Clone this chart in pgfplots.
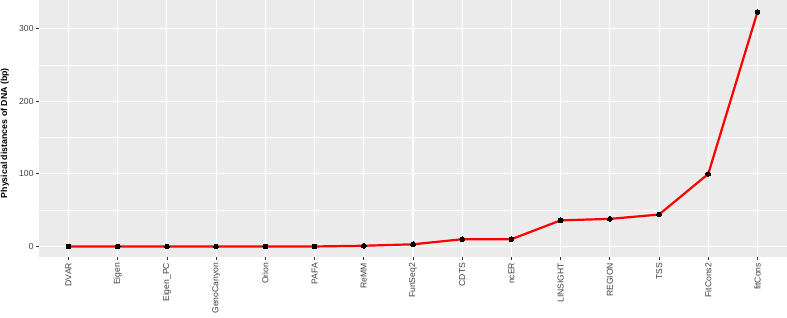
\documentclass[border=0pt]{standalone}
\usepackage{pgfplots}
\pgfplotsset{compat=1.18}
\usepackage{fontspec}
\setmainfont{Liberation Sans}
\definecolor{panelbg}{HTML}{EBEBEB}
\definecolor{gray30}{HTML}{404040}
\definecolor{gray20}{HTML}{333333}
\begin{document}
\begin{tikzpicture}
\path[use as bounding box] (-39pt,-60pt) rectangle (748pt,257pt);
\begin{axis}[
  at={(0,0)}, anchor=south west,
  scale only axis, width=748pt, height=257pt,
  xmin=-0.6, xmax=14.6, ymin=-14.5, ymax=339.5,
  xtick={0,...,14},
  xticklabels={DVAR,Eigen,Eigen\_PC,GenoCanyon,Orion,PAFA,ReMM,FunSeq2,CDTS,ncER,LINSIGHT,REGION,TSS,FitCons2,fitCons},
  ytick={0,100,200,300},
  minor ytick={50,150,250},
  /pgf/number format/assume math mode=true,
  grid=both,
  major grid style={white, line width=1.07pt},
  minor grid style={white, line width=0.53pt},
  axis background/.style={fill=panelbg},
  axis line style={draw=none},
  tick align=outside,
  major tick length=2.75pt,
  minor tick length=0pt,
  tick style={gray20, line width=0.8pt},
  tick label style={font=\fontsize{8.6}{10}\selectfont, text=gray30},
  x tick label style={rotate=90, anchor=east, inner sep=0pt},
  xticklabel shift=3pt,
  yticklabel shift=1.5pt,
  y tick label style={inner sep=1pt},
  ylabel={Physical distances of DNA (bp)},
  every axis y label/.style={at={(axis description cs:-0.0455,0.482)}, rotate=90, anchor=center, font=\bfseries\fontsize{8.8}{10}\selectfont},
  clip=false,
]
\addplot[red, line width=2.2pt, mark=*, mark size=2.4pt, mark options={black, fill=black, line width=0pt}]
coordinates {
(0,0) (1,0) (2,0) (3,0) (4,0) (5,0) (6,1) (7,3) (8,10) (9,10) (10,36) (11,38) (12,44) (13,100) (14,323)
};
\end{axis}
\end{tikzpicture}
\end{document}
